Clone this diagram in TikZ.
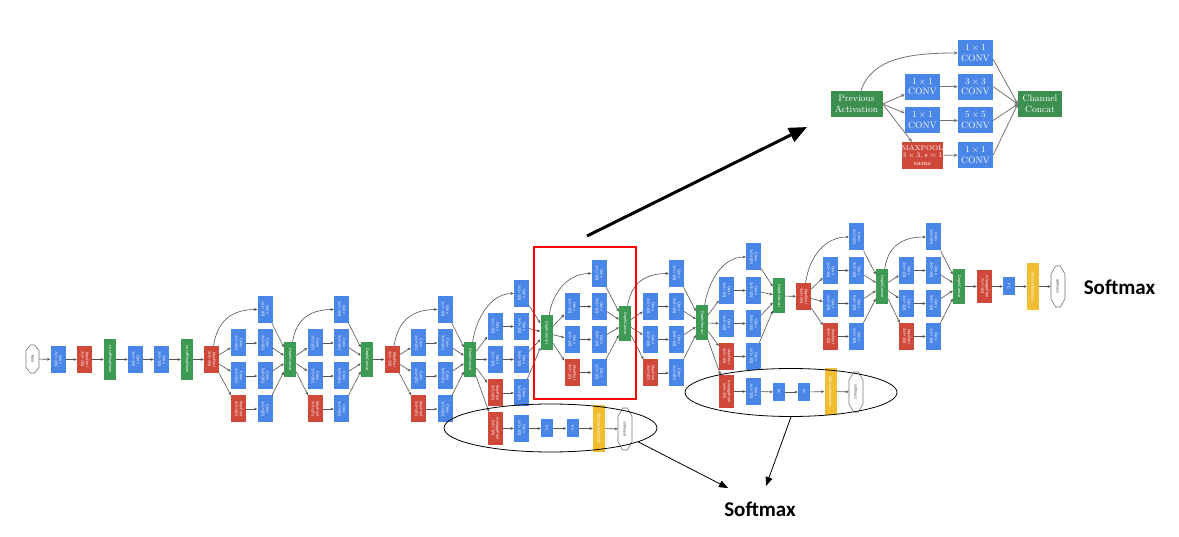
\documentclass[tikz,border=0pt]{standalone}
\usepackage{fontspec}
\usepackage{graphicx}
\usetikzlibrary{arrows.meta,calc,shapes.geometric}
\newfontfamily\calib{Carlito}
\newfontfamily\tsans{Liberation Sans}
\definecolor{gblue}{HTML}{4A86E8}
\definecolor{gred}{HTML}{D0483A}
\definecolor{ggreen}{HTML}{3D9A52}
\definecolor{ggreenb}{HTML}{3C8F4F}
\definecolor{gyellow}{HTML}{F1BE32}
\newcommand\twol[2]{\rotatebox{-90}{\begin{tabular}{@{}c@{}}#1\\#2\end{tabular}}}
\newcommand\onel[1]{\rotatebox{-90}{#1}}
\tikzset{
  blk/.style={inner sep=0pt, text=white, font=\tsans\fontsize{3.8}{4.3}\selectfont},
  conv/.style={blk, fill=gblue, minimum width=15pt, minimum height=27pt},
  pool/.style={blk, fill=gred, minimum width=15pt, minimum height=27pt},
  apool/.style={blk, fill=gred, minimum width=15pt, minimum height=33pt},
  lrn/.style={blk, fill=ggreen, minimum width=12pt, minimum height=41pt},
  concat/.style={blk, fill=ggreen, minimum width=12pt, minimum height=35pt},
  fcbox/.style={blk, fill=gblue, minimum width=12pt, minimum height=18pt},
  smact/.style={blk, fill=gyellow, minimum width=12pt, minimum height=47pt},
  octtext/.style={inner sep=0pt, text=black!80, font=\tsans\fontsize{3.6}{4.2}\selectfont},
  octline/.style={draw=black!55, line width=0.6pt},
  edge/.style={draw=black!68, line width=0.6pt, -{Stealth[length=3.2pt,width=2.8pt]}},
  auxell/.style={ellipse, draw=black, line width=0.8pt, inner sep=0pt},
  bigarrow/.style={draw=black, line width=3pt, -{Triangle[length=18pt,width=15pt]}},
  smarrow/.style={draw=black, line width=0.8pt, -{Triangle[length=9pt,width=7pt]}},
  smlabel/.style={font=\calib\bfseries\fontsize{21}{24}\selectfont, inner sep=0pt},
  inbox/.style={inner sep=0pt, text=white, align=center, font=\fontsize{9.3}{10.6}\selectfont},
  iconv/.style={inbox, fill=gblue, minimum width=35pt, minimum height=26pt},
  igreen/.style={inbox, fill=ggreenb, minimum height=26pt},
  ipool/.style={inbox, fill=gred, minimum width=41pt, minimum height=27pt, font=\fontsize{7}{7.8}\selectfont},
  iedge/.style={draw=black!55, line width=0.8pt, -{Stealth[length=4pt,width=3.5pt]}}
}
\newcommand\octnode[6]{%
  \node[octtext, minimum width=#4*2pt, minimum height=#5*2pt] (#1) at (#2,#3) {\onel{#6}};
  \draw[octline] ($(#1)+(-#4/3,-#5)$) -- ($(#1)+(#4/3,-#5)$) -- ($(#1)+(#4,-#5*0.6)$) -- ($(#1)+(#4,#5*0.6)$) -- ($(#1)+(#4/3,#5)$) -- ($(#1)+(-#4/3,#5)$) -- ($(#1)+(-#4,#5*0.6)$) -- ($(#1)+(-#4,-#5*0.6)$) -- cycle;
}
\newcommand\incep[9]{%
  \node[conv] (#1t) at (#4,#5) {\twol{Conv}{1x1+1(S)}};
  \node[conv] (#1a) at (#3,#6) {\twol{Conv}{1x1+1(S)}};
  \node[conv] (#1b) at (#4,#6) {\twol{Conv}{3x3+1(S)}};
  \node[conv] (#1c) at (#3,#7) {\twol{Conv}{1x1+1(S)}};
  \node[conv] (#1d) at (#4,#7) {\twol{Conv}{5x5+1(S)}};
  \node[pool] (#1e) at (#3,#8) {\twol{MaxPool}{3x3+1(S)}};
  \node[conv] (#1f) at (#4,#8) {\twol{Conv}{1x1+1(S)}};
  \draw[edge] (#2) .. controls +(6,-40) and +(-24,0) .. (#1t.west);
  \draw[edge] (#2) -- (#1a);
  \draw[edge] (#2) -- (#1c);
  \draw[edge] (#2) -- (#1e);
  \draw[edge] (#1a) -- (#1b);
  \draw[edge] (#1c) -- (#1d);
  \draw[edge] (#1e) -- (#1f);
  \draw[edge] (#1t) -- (#9);
  \draw[edge] (#1b) -- (#9);
  \draw[edge] (#1d) -- (#9);
  \draw[edge] (#1f) -- (#9);
}
\begin{document}
\begin{tikzpicture}[x=1pt,y=-1pt]
\useasboundingbox (0,0) rectangle (1179,537);
% ---------- stem ----------
\octnode{in}{32.5}{359}{6.5}{14}{input}
\node[conv] (c1) at (58,359.5) {\twol{Conv}{7x7+2(S)}};
\node[pool] (p1) at (84.5,359.5) {\twol{MaxPool}{3x3+2(S)}};
\node[lrn] (n1) at (110,359.5) {\onel{LocalRespNorm}};
\node[conv] (c2) at (135.5,359.5) {\twol{Conv}{1x1+1(V)}};
\node[conv] (c3) at (161.5,359.5) {\twol{Conv}{3x3+1(S)}};
\node[lrn] (n2) at (187,359.5) {\onel{LocalRespNorm}};
\node[pool] (p2) at (211.5,359.5) {\twol{MaxPool}{3x3+2(S)}};
\foreach \a/\b in {in/c1,c1/p1,p1/n1,n1/c2,c2/c3,c3/n2,n2/p2} \draw[edge] (\a) -- (\b);
% ---------- inception 3 ----------
\node[concat] (k3a) at (290,359.5) {\onel{DepthConcat}};
\incep{i3a}{p2}{238.5}{265}{309.5}{343}{376}{409}{k3a}
\node[concat] (k3b) at (367,359.5) {\onel{DepthConcat}};
\incep{i3b}{k3a}{315}{341.5}{309.5}{343}{376}{409}{k3b}
\node[pool] (p3) at (392,359.5) {\twol{MaxPool}{3x3+2(S)}};
\draw[edge] (k3b) -- (p3);
% ---------- inception 4 ----------
\node[concat] (k4a) at (470,359.5) {\onel{DepthConcat}};
\incep{i4a}{p3}{418.5}{445}{309.5}{343}{376}{409}{k4a}
\node[concat] (k4b) at (546.5,333) {\onel{DepthConcat}};
\incep{i4b}{k4a}{495}{521.5}{293.5}{326.5}{359.5}{393}{k4b}
\node[concat] (k4c) at (625,323.5) {\onel{DepthConcat}};
\incep{i4c}{k4b}{572}{599}{273.5}{306.5}{339.5}{372.5}{k4c}
\node[concat] (k4d) at (702,323) {\onel{DepthConcat}};
\incep{i4d}{k4c}{650.5}{676.5}{273.5}{306.5}{339.5}{373}{k4d}
\node[concat] (k4e) at (779,296) {\onel{DepthConcat}};
\incep{i4e}{k4d}{726.5}{753.5}{257}{290.5}{323.5}{356.5}{k4e}
\node[pool] (p4) at (803.5,296.5) {\twol{MaxPool}{3x3+2(S)}};
\draw[edge] (k4e) -- (p4);
% ---------- inception 5 ----------
\node[concat] (k5a) at (882,286.5) {\onel{DepthConcat}};
\incep{i5a}{p4}{830.5}{856.5}{237}{270.5}{303.5}{336.5}{k5a}
\node[concat] (k5b) at (959,286.5) {\onel{DepthConcat}};
\incep{i5b}{k5a}{906.5}{933.5}{237}{270.5}{303.5}{336.5}{k5b}
\node[apool] (ap) at (984.5,286.5) {\twol{AveragePool}{7x7+1(V)}};
\node[fcbox] (fc) at (1009,286.5) {\onel{FC}};
\node[smact] (sa) at (1033,286.5) {\onel{SoftmaxActivation}};
\octnode{s2}{1058}{286.5}{7}{20.5}{softmax2}
\foreach \a/\b in {k5b/ap,ap/fc,fc/sa,sa/s2} \draw[edge] (\a) -- (\b);
% ---------- auxiliary 1 ----------
\node[apool] (ap1) at (495,428.5) {\twol{AveragePool}{5x5+3(V)}};
\node[conv] (ac1) at (521.5,428.5) {\twol{Conv}{1x1+1(S)}};
\node[fcbox] (f11) at (547,428.5) {\onel{FC}};
\node[fcbox] (f12) at (572.5,428.5) {\onel{FC}};
\node[smact] (sa1) at (599,428.5) {\onel{SoftmaxActivation}};
\octnode{s0}{625}{429}{7}{21}{softmax0}
\foreach \a/\b in {k4a/ap1,ap1/ac1,ac1/f11,f11/f12,f12/sa1,sa1/s0} \draw[edge] (\a) -- (\b);
\node[auxell, minimum width=213pt, minimum height=48pt] (e1) at (550.5,428) {};
% ---------- auxiliary 2 ----------
\node[apool] (ap2) at (726.5,391.5) {\twol{AveragePool}{5x5+3(V)}};
\node[conv] (ac2) at (753.5,391.5) {\twol{Conv}{1x1+1(S)}};
\node[fcbox] (f21) at (779,392) {\onel{FC}};
\node[fcbox] (f22) at (804,392) {\onel{FC}};
\node[smact] (sa2) at (830.5,391.5) {\onel{SoftmaxActivation}};
\octnode{s1}{856}{392}{7}{20}{softmax1}
\foreach \a/\b in {k4d/ap2,ap2/ac2,ac2/f21,f21/f22,f22/sa2,sa2/s1} \draw[edge] (\a) -- (\b);
\node[auxell, minimum width=212pt, minimum height=48pt] (e2) at (791,392.5) {};
% ---------- highlight box and big arrow ----------
\node[draw=red, line width=2.2pt, minimum width=102pt, minimum height=152pt, inner sep=0pt] (rb) at (585,323) {};
\coordinate (ba0) at (587,236);
\coordinate (ba1) at (807,127);
\draw[bigarrow] (ba0) -- (ba1);
% ---------- softmax labels ----------
\node[smlabel] (smr) at (1119.5,287) {Softmax};
\node[smlabel] (smb) at (760,509) {Softmax};
\coordinate (t1) at (728,488);
\coordinate (t2) at (766,486);
\draw[smarrow] (e1.-9) -- (t1);
\draw[smarrow] (e2.-90) -- (t2);
% ---------- inset inception module ----------
\node[igreen, minimum width=52pt] (pa) at (856.5,104) {Previous\\Activation};
\node[iconv] (j1) at (975.5,53) {$1\times1$\\CONV};
\node[iconv] (j2a) at (922.5,86.7) {$1\times1$\\CONV};
\node[iconv] (j2b) at (975.5,86.7) {$3\times3$\\CONV};
\node[iconv] (j3a) at (922.5,120.5) {$1\times1$\\CONV};
\node[iconv] (j3b) at (975.5,120.5) {$5\times5$\\CONV};
\node[ipool] (j4a) at (922.5,155.5) {MAXPOOL\\$3\times3,s=1$\\same};
\node[iconv] (j4b) at (975.5,155) {$1\times1$\\CONV};
\node[igreen, minimum width=44pt] (cc) at (1040,104) {Channel\\Concat};
\draw[iedge] (pa) .. controls +(15,-45) and +(-50,0) .. (j1.west);
\draw[iedge] (pa.east) -- (j2a);
\draw[iedge] (pa.east) -- (j3a);
\draw[iedge] (pa.east) -- (j4a);
\draw[iedge] (j2a) -- (j2b);
\draw[iedge] (j3a) -- (j3b);
\draw[iedge] (j4a) -- (j4b);
\draw[iedge] (j1.-20) -- (cc.west);
\draw[iedge] (j2b.east) -- (cc.west);
\draw[iedge] (j3b.east) -- (cc.west);
\draw[iedge] (j4b.east) -- (cc.west);
\end{tikzpicture}
\end{document}
